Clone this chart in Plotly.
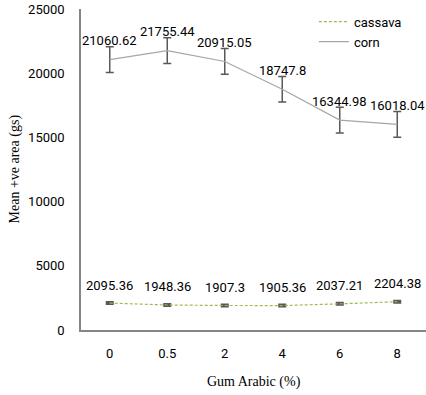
import plotly.graph_objects as go

categories = ["0", "0.5", "2", "4", "6", "8"]
cassava = [2095.36, 1948.36, 1907.3, 1905.36, 2037.21, 2204.38]
cassava_err = [60, 60, 60, 60, 60, 60]
corn = [21060.62, 21755.44, 20915.05, 18747.8, 16344.98, 16018.04]
corn_err = [1000, 1000, 1000, 1000, 1000, 1000]
y_ticks = [0, 5000, 10000, 15000, 20000, 25000]

fig = go.Figure()
fig.add_trace(go.Scatter(
    x=categories, y=cassava, name="cassava", mode="lines",
    line=dict(color="#9BBB59", width=1.2, dash="3px,2px"),
    error_y=dict(type="data", array=cassava_err, color="#595959", thickness=2.5, width=4),
))
fig.add_trace(go.Scatter(
    x=categories, y=corn, name="corn", mode="lines",
    line=dict(color="#A6A6A6", width=1.2),
    error_y=dict(type="data", array=corn_err, color="#595959", thickness=1.5, width=4),
))

labels = []
for i, v in enumerate(cassava):
    labels.append(dict(x=i, y=v, xref="x", yref="y", text=str(v), showarrow=False, yshift=18,
                       font=dict(family="Roboto", size=13, color="#000000")))
for i, v in enumerate(corn):
    labels.append(dict(x=i, y=v, xref="x", yref="y", text=str(v), showarrow=False, yshift=19,
                       font=dict(family="Roboto", size=13, color="#000000")))

# axis titles as annotations for exact placement
labels.append(dict(x=0.5, y=0, xref="paper", yref="paper", text="Gum Arabic (%)",
                   showarrow=False, yshift=-52, xanchor="center", yanchor="middle",
                   font=dict(family="Liberation Serif", size=14, color="#000000")))
labels.append(dict(x=0, y=0.5, xref="paper", yref="paper", text="Mean +ve area (gs)",
                   showarrow=False, xshift=-67, textangle=-90, xanchor="center", yanchor="middle",
                   font=dict(family="Liberation Serif", size=14, color="#000000")))

fig.update_layout(
    width=426, height=395,
    margin=dict(l=81, r=0, t=9, b=65, autoexpand=False),
    paper_bgcolor="white", plot_bgcolor="white",
    annotations=labels,
    showlegend=True,
    legend=dict(x=0.675, y=1.007, xanchor="left", yanchor="top",
                bgcolor="rgba(0,0,0,0)", tracegroupgap=0,
                font=dict(family="Roboto", size=13, color="#000000")),
    xaxis=dict(type="category", range=[-0.5, 5.5], showgrid=False, zeroline=False,
               automargin=False, ticklabelstandoff=10,
               showline=True, linecolor="#868686", linewidth=2, ticks="",
               tickfont=dict(family="Roboto", size=13, color="#000000")),
    yaxis=dict(range=[0, 25000], tickvals=y_ticks, ticktext=[str(t) for t in y_ticks],
               showgrid=False, zeroline=False, automargin=False, ticklabelstandoff=12,
               showline=True, linecolor="#868686", linewidth=1.5, ticks="",
               tickfont=dict(family="Roboto", size=13, color="#000000")),
)

fig.write_html("out.html", config={"displayModeBar": False},
               post_script="document.body.style.margin='0';")
